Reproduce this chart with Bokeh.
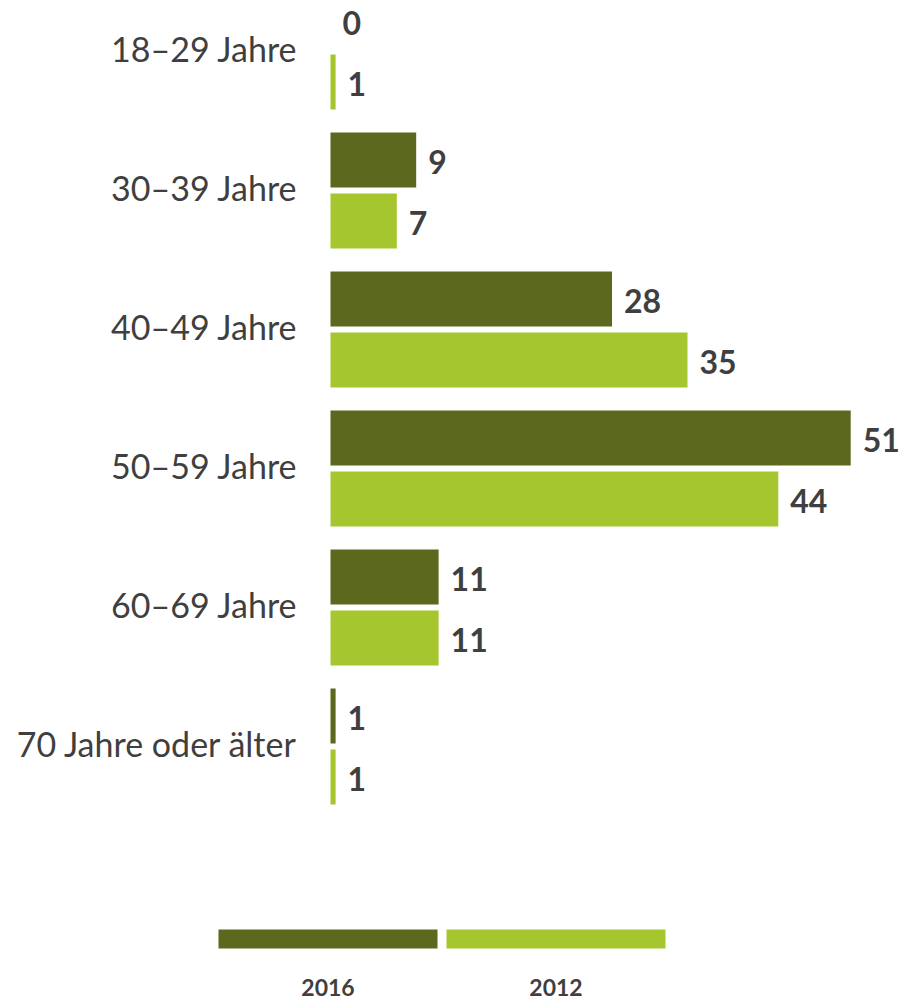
from bokeh.plotting import figure
from bokeh.models import Range1d, ColumnDataSource
from bokeh.core.properties import value
from bokeh.embed import file_html
from bokeh.resources import INLINE

# ---- data ----
categories = ["18–29 Jahre", "30–39 Jahre", "40–49 Jahre", "50–59 Jahre",
              "60–69 Jahre", "70 Jahre oder älter"]
series = ["2016", "2012"]
# bar lengths (percent)
values_2016 = [0.0, 8.4, 27.6, 51.0, 10.6, 0.5]
values_2012 = [0.5, 6.5, 35.0, 43.9, 10.6, 0.5]
# printed (rounded) value labels
labels_2016 = ["0", "9", "28", "51", "11", "1"]
labels_2012 = ["1", "7", "35", "44", "11", "1"]

DARK = "#5B681D"
LIGHT = "#A6C630"
TEXT = "#3F3F3F"
FONT = "Lato"

# ---- layout geometry (screen pixels -> data units) ----
W, H = 904, 1000
ORIGIN = 0.0
X0_PAGE = 330.0       # screen x of value 0
PX_PER_UNIT = 10.2    # px per percent
Y0_PAGE = 51.0        # screen y of first group centre
PITCH = 139.0         # px per group


def dx(page_x):
    return (page_x - X0_PAGE) / PX_PER_UNIT


def dy(page_y):
    return (page_y - Y0_PAGE) / PITCH


idx = list(range(len(categories)))
off = 30.5 / PITCH
bh = 55.0 / PITCH

src16 = ColumnDataSource(dict(y=[i - off for i in idx], v=values_2016, lab=labels_2016))
src12 = ColumnDataSource(dict(y=[i + off for i in idx], v=values_2012, lab=labels_2012))
srccat = ColumnDataSource(dict(y=idx, x=[0] * len(idx), lab=categories))

p = figure(width=W, height=H, output_backend="svg", toolbar_location=None,
           x_range=Range1d(dx(ORIGIN), dx(ORIGIN + W)),
           y_range=Range1d(dy(ORIGIN + H), dy(ORIGIN)),
           min_border=0, x_axis_location=None, y_axis_location=None)
p.outline_line_color = None
p.xgrid.visible = False
p.ygrid.visible = False
p.background_fill_color = "white"
p.border_fill_color = "white"

p.hbar(y="y", right="v", left=0, height=bh, source=src16, fill_color=DARK, line_color=None)
p.hbar(y="y", right="v", left=0, height=bh, source=src12, fill_color=LIGHT, line_color=None)

for s in (src16, src12):
    p.text(x="v", y="y", text="lab", source=s, x_offset=12, y_offset=2,
           text_font=value(FONT), text_font_style="bold", text_font_size="32px",
           text_color=TEXT, text_baseline="middle", text_align="left")

# category labels
p.text(x="x", y="y", text="lab", source=srccat, x_offset=-33, y_offset=-3,
       text_font=value(FONT), text_font_size="34px", text_color=TEXT,
       text_baseline="middle", text_align="right")

# ---- legend (below the bars) ----
leg_left = [218, 446]
leg_w = 219
lsrc = ColumnDataSource(dict(
    x=[dx(l + leg_w / 2) for l in leg_left],
    y=[dy(938.5)] * 2,
    ly=[dy(986.5)] * 2,
    c=[DARK, LIGHT],
    lab=series))
p.rect(x="x", y="y", width=leg_w / PX_PER_UNIT, height=19 / PITCH, source=lsrc,
       fill_color="c", line_color=None)
p.text(x="x", y="ly", text="lab", source=lsrc, text_font=value(FONT),
       text_font_style="bold", text_font_size="23px", text_color=TEXT,
       text_align="center", text_baseline="middle")

open("out.html", "w").write(file_html(p, INLINE))
